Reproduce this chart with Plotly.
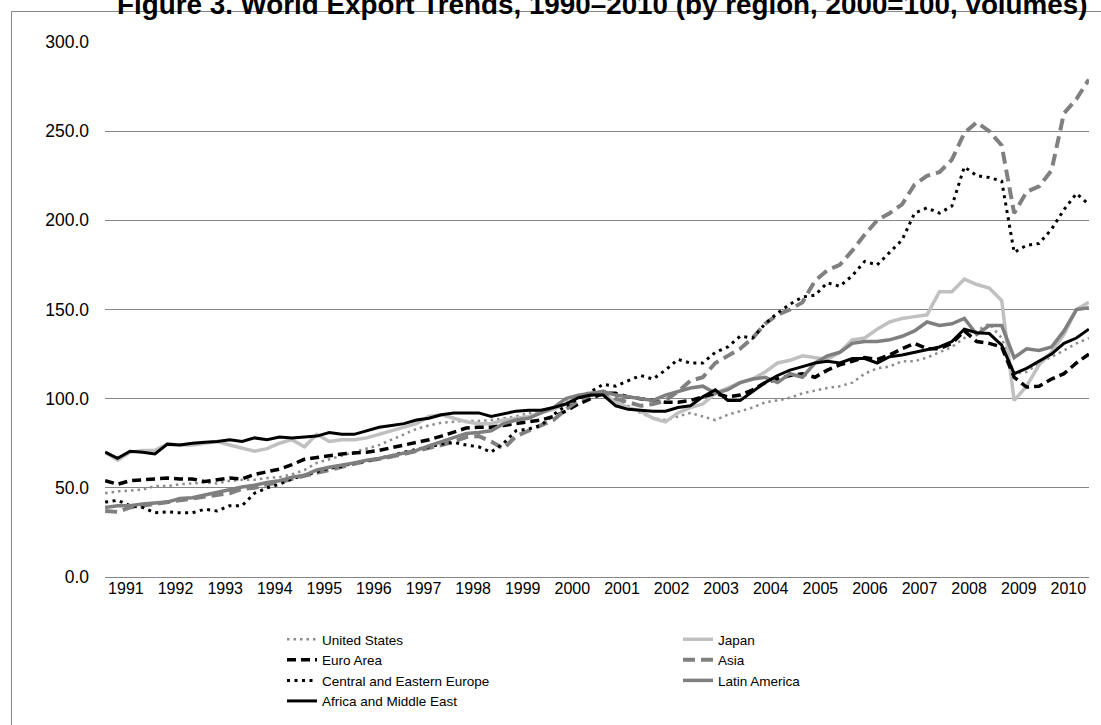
import pandas as pd
import plotly.graph_objects as go

# Quarterly observations, Aug 1990 .. mid 2010 (index, 2000 = 100)
dates = pd.date_range("1990-08-01", "2010-06-01", periods=80)
years = list(range(1991, 2011))

united_states = [47, 48, 48.5, 49, 51, 51, 52, 52.5, 53, 52.5,
                 54, 54.5, 54.5, 55.5, 56, 57.5, 60, 64, 66, 68,
                 70, 72, 74, 77, 80, 83, 85, 86.5, 87, 87.5,
                 87.5, 88, 89, 90, 92, 93, 95, 98, 101, 103,
                 102, 99, 96, 92, 89, 88, 90, 92, 90, 88,
                 91, 93, 95, 98, 99, 100.5, 103, 104.5, 106, 107,
                 109, 114, 117, 118, 121, 121, 123, 126, 129, 134,
                 138, 142, 134, 114, 115, 120, 123.5, 127, 131, 134]

japan = [70, 65.5, 70, 71, 71, 74.5, 74, 74, 75, 76,
         74, 72, 70.5, 72, 75, 77, 73, 80, 76, 77,
         77, 78, 80, 82, 84, 86, 90, 91, 89, 87,
         86, 86, 88, 89, 90, 92, 94, 97, 101, 103,
         103, 98, 95, 93, 89, 87, 92, 95, 97, 103,
         106, 109, 111, 115, 120, 121.5, 124, 123, 122, 126,
         133, 134, 139, 143, 145, 146, 147, 160, 160, 167,
         164, 162, 155, 99, 107, 119, 126, 136, 150, 154]

euro_area = [54, 52, 54, 54.5, 55, 55.5, 55, 55, 53.5, 54.5,
             55.5, 55, 57.5, 59, 60.5, 63, 66, 67, 68, 69,
             69.5, 70, 71, 72.5, 74, 75.5, 77, 79, 81.5, 83.5,
             84, 84, 85, 86, 87, 88, 90, 93, 97, 100,
             103, 103, 101, 100, 99, 98, 98, 99, 101, 103,
             101, 102, 105, 109, 111, 113, 114, 112, 116, 119,
             121, 123, 122, 124.5, 128, 131, 128, 128, 131, 138,
             132, 131, 129, 112, 106.5, 107, 111, 114, 120, 125]

asia = [37, 36.5, 39, 40, 41, 42, 43, 44, 45, 46.5,
        47, 49.5, 50, 52, 53, 55, 57, 58.5, 60, 62,
        63.5, 65, 66, 67.5, 69, 70.5, 72, 74, 76, 78.5,
        79, 76, 72, 79, 82, 85, 88, 94, 99, 102,
        104, 100, 98, 96, 97, 99, 104, 110, 112, 120,
        124, 128, 134, 142, 147, 150, 154, 166, 172, 175,
        183, 192, 200, 204, 209, 220, 225, 227, 234, 249,
        255, 250, 242, 204, 216, 219, 228, 260, 268, 279]

central_eastern_europe = [42, 43, 40, 39, 36, 36.5, 36, 36, 38, 37,
                          40, 40, 47, 50, 52, 55, 57, 59, 61, 62,
                          64, 65, 66.5, 68, 70, 71.5, 73, 74.5, 75.5, 74,
                          73, 70, 75, 82, 83, 85, 91, 96, 100, 104,
                          108, 107, 110, 113, 111, 116, 122, 120, 120, 126,
                          129, 135, 134, 142, 148, 153, 157, 158, 165, 163,
                          169, 177, 175, 182, 189, 204, 207, 204, 208, 230,
                          225, 224, 222, 182, 186, 187, 195, 206, 215, 209]

latin_america = [39, 40, 40, 41, 41.5, 42, 44, 44.5, 46, 47.5,
                 49, 50.5, 51.5, 53, 54, 56, 57, 60, 61.5, 62.5,
                 64, 65.5, 66.5, 68, 69.5, 71, 73.5, 76, 78, 80.5,
                 81, 82, 86, 88, 89, 92, 95, 100, 102, 103,
                 104, 102, 101, 100, 99, 102, 104, 106, 107, 103,
                 105, 109, 111, 112, 109, 114, 112, 120, 124, 126,
                 131, 132, 132, 133, 135, 138, 143, 141, 142, 145,
                 136, 141, 141, 123, 128, 127, 129, 138, 150, 151]

africa_middle_east = [70, 66.5, 70.5, 70, 69, 74.5, 74, 75, 75.5, 76,
                      77, 76, 78, 77, 78.5, 78, 78.5, 79, 81, 80,
                      80, 82, 84, 85, 86, 88, 89, 91, 92, 92,
                      92, 90, 91.5, 93, 93.5, 93.5, 95, 97, 100.5, 102,
                      102, 96, 94, 93.5, 93, 93, 95, 96, 101, 105,
                      99, 99, 104, 109, 113, 116, 118, 120, 121, 120,
                      122.5, 122.5, 120, 123.5, 124.5, 126, 127.5, 129, 132, 139,
                      137, 136.5, 130, 114, 117, 121, 125, 131, 134, 139]

FONT = "Liberation Sans, Arial, sans-serif"

series = [
    ("United States", united_states, dict(color="#8c8c8c", width=2.5, dash="2.5px,4px")),
    ("Japan", japan, dict(color="#c0c0c0", width=3.5)),
    ("Euro Area", euro_area, dict(color="#000000", width=3.5, dash="9px,5px")),
    ("Asia", asia, dict(color="#808080", width=4, dash="12px,6px")),
    ("Central and Eastern Europe", central_eastern_europe, dict(color="#000000", width=3, dash="3px,4.5px")),
    ("Latin America", latin_america, dict(color="#7f7f7f", width=3.5)),
    ("Africa and Middle East", africa_middle_east, dict(color="#000000", width=3)),
]

fig = go.Figure()
for name, vals, line in series:
    fig.add_trace(go.Scatter(x=dates, y=vals, name=name, mode="lines", line=line,
                             hoverinfo="x+y+name"))

W, H = 1101, 725
L, R, T, B = 105, 12, 42, 148
pw, ph = W - L - R, H - T - B


def fx(px):
    return (px - L) / pw


def fy(py):
    return (H - B - py) / ph


fig.update_layout(
    width=W, height=H,
    margin=dict(l=L, r=R, t=T, b=B, autoexpand=False),
    paper_bgcolor="white", plot_bgcolor="white",
    font=dict(family=FONT, color="black"),
    title=dict(text="<b>Figure 3. World Export Trends, 1990\u20132010 (by region, 2000=100, volumes)</b>",
               x=0.547, xanchor="center", xref="container",
               y=1 - 4.5 / H, yanchor="middle", yref="container",
               font=dict(family=FONT, size=27.8, color="black")),
    legend=dict(orientation="h", x=fx(282), y=fy(624),
                xanchor="left", yanchor="top", entrywidth=351, entrywidthmode="pixels",
                font=dict(family=FONT, size=13.5, color="black"),
                bgcolor="rgba(0,0,0,0)", borderwidth=0, traceorder="normal"),
    showlegend=True,
)

# chart-area frame: left and top edges (the rest runs off the page)
frame_path = f"M {fx(11.5)} {fy(1000)} L {fx(11.5)} {fy(11.5)} L {fx(1200)} {fy(11.5)}"
fig.add_shape(type="path", xref="paper", yref="paper", path=frame_path,
              line=dict(color="#868686", width=1), layer="above")

fig.update_xaxes(type="date", range=["1990-07-31", "2010-06-02"],
                 tickvals=[f"{y}-01-01" for y in years], ticktext=[str(y) for y in years],
                 showgrid=False, showline=False, zeroline=False, ticks="",
                 tickfont=dict(family=FONT, size=16, color="black"))
fig.update_yaxes(range=[0, 300], dtick=50, tick0=0, tickformat=".1f",
                 showgrid=True, gridcolor="#868686", gridwidth=1,
                 zeroline=True, zerolinecolor="#868686", zerolinewidth=1,
                 showline=False, ticks="", ticklabelstandoff=15,
                 tickfont=dict(family=FONT, size=17.5, color="black"))

fig.write_html("out.html", config={"displayModeBar": False},
               post_script="document.body.style.margin='0';")
